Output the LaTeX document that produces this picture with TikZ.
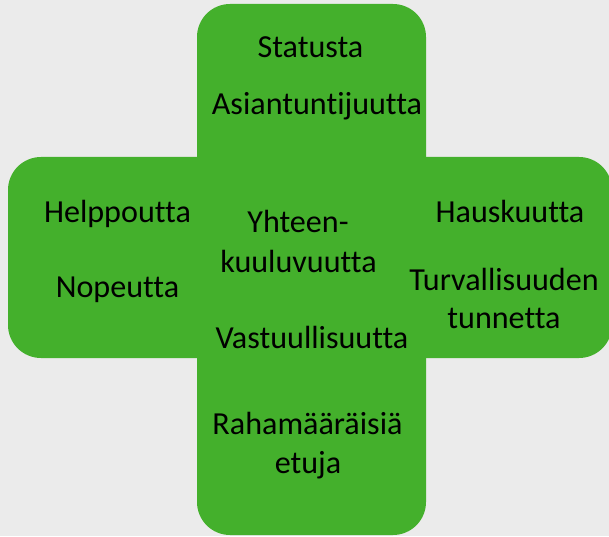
\documentclass[tikz,border=0pt]{standalone}
\usepackage{fontspec}
\setmainfont{Carlito}[Ligatures={NoCommon}]
\definecolor{bg}{HTML}{EBEBEB}
\definecolor{crossgreen}{HTML}{44B02C}
\begin{document}
\begin{tikzpicture}[x=1pt,y=1pt,
  bar/.style={fill=crossgreen,draw=none,rounded corners=33pt},
  lbl/.style={anchor=base,inner sep=0pt,font=\fontsize{32.1}{39}\selectfont,text=black}]
\fill[bg] (0,0) rectangle (609,536);
\useasboundingbox (0,0) rectangle (609,536);
\fill[bar] (197,1) rectangle (426,532);
\fill[bar] (8,178) rectangle (612,379);
\node[lbl] (statusta) at (310.5,478) {Statusta};
\node[lbl] (asiant) at (317,421) {Asiantuntijuutta};
\node[lbl] (helppo) at (117.5,314) {Helppoutta};
\node[lbl] (nopeus) at (117.5,239) {Nopeutta};
\node[lbl] (yht1) at (298,304) {Yhteen-};
\node[lbl] (yht2) at (298.5,264) {kuuluvuutta};
\node[lbl] (hausk) at (510,314) {Hauskuutta};
\node[lbl] (turva1) at (504,246) {Turvallisuuden};
\node[lbl] (turva2) at (504,208) {tunnetta};
\node[lbl] (vastuu) at (312,188) {Vastuullisuutta};
\node[lbl] (raha1) at (307.5,102) {Rahamääräisiä};
\node[lbl] (raha2) at (308,63) {etuja};
\end{tikzpicture}
\end{document}
